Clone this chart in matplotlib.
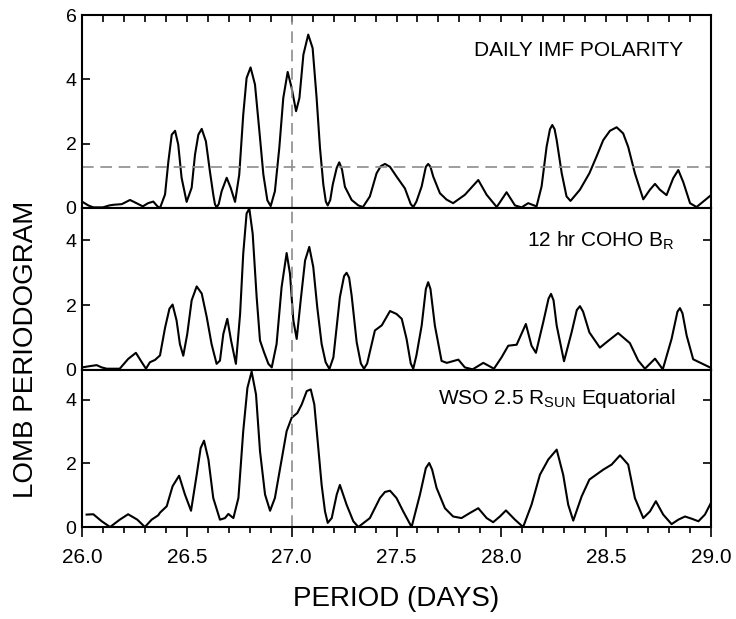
import numpy as np
import matplotlib.pyplot as plt
from matplotlib.ticker import MultipleLocator

plt.rcParams['font.family'] = ['Liberation Sans', 'DejaVu Sans']

# panel 1: daily IMF polarity
p1_x = [26.0, 26.03, 26.054, 26.10, 26.13, 26.15, 26.19, 26.229, 26.26, 26.29,
        26.315, 26.34, 26.36, 26.372, 26.396, 26.412, 26.428, 26.444, 26.459, 26.475,
        26.499, 26.523, 26.539, 26.555, 26.571, 26.591, 26.61, 26.626, 26.634, 26.642,
        26.652, 26.666, 26.69, 26.709, 26.73, 26.75, 26.769, 26.785, 26.804, 26.825,
        26.846, 26.865, 26.884, 26.9, 26.92, 26.941, 26.96, 26.981, 27.0, 27.021,
        27.037, 27.056, 27.079, 27.1, 27.119, 27.135, 27.151, 27.163, 27.172, 27.184,
        27.196, 27.215, 27.227, 27.24, 27.254, 27.286, 27.318, 27.34, 27.373, 27.405,
        27.425, 27.445, 27.469, 27.50, 27.54, 27.568, 27.58, 27.595, 27.62, 27.64,
        27.651, 27.662, 27.675, 27.707, 27.739, 27.77, 27.826, 27.89, 27.93, 27.978,
        28.025, 28.065, 28.097, 28.128, 28.168, 28.192, 28.216, 28.232, 28.243, 28.254,
        28.264, 28.288, 28.311, 28.33, 28.375, 28.42, 28.454, 28.486, 28.518, 28.55,
        28.581, 28.605, 28.637, 28.677, 28.709, 28.733, 28.756, 28.788, 28.82, 28.844,
        28.868, 28.9, 28.931, 28.963, 29.0]
p1_y = [0.2, 0.08, 0.02, 0.02, 0.08, 0.1, 0.12, 0.25, 0.15, 0.05,
        0.15, 0.2, 0.05, 0.0, 0.42, 1.45, 2.28, 2.4, 1.97, 0.94,
        0.19, 0.63, 1.66, 2.28, 2.46, 2.07, 1.14, 0.42, 0.12, 0.02,
        0.12, 0.52, 0.94, 0.63, 0.19, 1.04, 2.9, 4.04, 4.37, 3.84,
        2.39, 1.04, 0.24, 0.06, 0.52, 1.87, 3.42, 4.23, 3.73, 3.01,
        3.42, 4.77, 5.39, 4.97, 3.42, 1.87, 0.73, 0.2, 0.08, 0.25,
        0.73, 1.25, 1.42, 1.2, 0.66, 0.25, 0.08, 0.03, 0.36, 1.08,
        1.3, 1.37, 1.28, 0.98, 0.61, 0.12, 0.03, 0.2, 0.67, 1.28,
        1.37, 1.28, 0.98, 0.46, 0.26, 0.15, 0.41, 0.87, 0.41, 0.03,
        0.49, 0.08, 0.02, 0.15, 0.05, 0.67, 1.91, 2.45, 2.58, 2.45,
        2.11, 1.08, 0.36, 0.22, 0.57, 1.08, 1.6, 2.11, 2.4, 2.51,
        2.32, 1.9, 1.08, 0.27, 0.57, 0.75, 0.57, 0.4, 0.93, 1.18,
        0.8, 0.15, 0.03, 0.2, 0.4]

# panel 2: 12 hr COHO B_R
p2_x = [26.0, 26.038, 26.07, 26.094, 26.118, 26.18, 26.22, 26.257, 26.285, 26.305,
        26.324, 26.348, 26.372, 26.396, 26.417, 26.432, 26.451, 26.467, 26.483, 26.502,
        26.523, 26.547, 26.571, 26.595, 26.618, 26.642, 26.658, 26.674, 26.693, 26.711,
        26.734, 26.754, 26.769, 26.785, 26.798, 26.814, 26.833, 26.849, 26.868, 26.889,
        26.905, 26.928, 26.952, 26.976, 26.992, 27.008, 27.024, 27.043, 27.064, 27.084,
        27.103, 27.122, 27.143, 27.162, 27.18, 27.199, 27.23, 27.25, 27.262, 27.274,
        27.286, 27.31, 27.33, 27.345, 27.36, 27.373, 27.397, 27.43, 27.469, 27.5,
        27.525, 27.548, 27.568, 27.58, 27.595, 27.62, 27.64, 27.651, 27.662, 27.683,
        27.715, 27.74, 27.795, 27.826, 27.863, 27.914, 27.965, 28.001, 28.033, 28.073,
        28.117, 28.144, 28.165, 28.2, 28.225, 28.237, 28.249, 28.264, 28.299, 28.335,
        28.36, 28.375, 28.39, 28.42, 28.47, 28.51, 28.557, 28.613, 28.653, 28.685,
        28.733, 28.77, 28.812, 28.84, 28.852, 28.864, 28.884, 28.915, 28.995]
p2_y = [0.08, 0.12, 0.15, 0.08, 0.04, 0.04, 0.34, 0.53, 0.24, 0.04,
        0.24, 0.31, 0.45, 1.3, 1.89, 2.02, 1.53, 0.8, 0.44, 1.11,
        2.15, 2.58, 2.36, 1.63, 0.8, 0.19, 0.29, 1.11, 1.58, 0.91,
        0.19, 1.73, 3.59, 4.83, 4.98, 4.21, 2.25, 0.91, 0.55, 0.19,
        0.08, 0.8, 2.56, 3.61, 2.97, 1.53, 0.96, 2.15, 3.38, 3.8,
        3.18, 1.94, 0.8, 0.24, 0.03, 0.39, 2.25, 2.9, 3.0, 2.85,
        2.3, 0.86, 0.2, 0.04, 0.2, 0.56, 1.22, 1.38, 1.82, 1.73,
        1.58, 0.96, 0.2, 0.04, 0.45, 1.37, 2.5, 2.71, 2.5, 1.37,
        0.28, 0.22, 0.32, 0.08, 0.02, 0.22, 0.04, 0.39, 0.75, 0.78,
        1.42, 0.75, 0.53, 1.48, 2.2, 2.35, 2.15, 1.37, 0.27, 1.16,
        1.85, 1.97, 1.8, 1.16, 0.69, 0.9, 1.14, 0.83, 0.29, 0.04,
        0.35, 0.02, 0.96, 1.8, 1.91, 1.75, 1.06, 0.33, 0.08]

# panel 3: WSO 2.5 Rsun equatorial
p3_x = [26.022, 26.054, 26.094, 26.134, 26.18, 26.22, 26.264, 26.30, 26.332, 26.364,
        26.372, 26.404, 26.432, 26.463, 26.491, 26.52, 26.547, 26.566, 26.582, 26.603,
        26.626, 26.658, 26.682, 26.698, 26.722, 26.746, 26.769, 26.789, 26.809, 26.83,
        26.849, 26.873, 26.897, 26.92, 26.948, 26.976, 27.0, 27.027, 27.048, 27.072,
        27.091, 27.108, 27.127, 27.143, 27.159, 27.172, 27.191, 27.215, 27.23, 27.262,
        27.294, 27.318, 27.373, 27.421, 27.445, 27.469, 27.5, 27.532, 27.572, 27.612,
        27.64, 27.656, 27.67, 27.691, 27.731, 27.77, 27.81, 27.85, 27.89, 27.93,
        27.961, 27.993, 28.022, 28.065, 28.104, 28.144, 28.184, 28.224, 28.264, 28.295,
        28.319, 28.343, 28.383, 28.42, 28.486, 28.526, 28.566, 28.605, 28.637, 28.677,
        28.709, 28.737, 28.772, 28.812, 28.844, 28.876, 28.908, 28.94, 28.971, 29.0]
p3_y = [0.39, 0.40, 0.18, 0.0, 0.23, 0.40, 0.23, 0.0, 0.23, 0.37,
        0.45, 0.65, 1.28, 1.61, 1.02, 0.51, 1.64, 2.48, 2.71, 2.12,
        0.91, 0.23, 0.28, 0.41, 0.28, 0.91, 3.01, 4.37, 4.88, 4.16,
        2.38, 1.02, 0.51, 0.91, 1.96, 3.01, 3.43, 3.58, 3.85, 4.27,
        4.32, 3.85, 2.48, 1.32, 0.49, 0.13, 0.28, 1.02, 1.32, 0.7,
        0.18, 0.0, 0.28, 0.91, 1.1, 1.14, 0.91, 0.49, 0.0, 1.02,
        1.85, 2.01, 1.8, 1.23, 0.59, 0.33, 0.28, 0.44, 0.59, 0.28,
        0.15, 0.33, 0.52, 0.23, 0.0, 0.7, 1.64, 2.12, 2.43, 1.64,
        0.7, 0.2, 0.96, 1.49, 1.8, 1.96, 2.25, 1.96, 0.91, 0.28,
        0.49, 0.81, 0.39, 0.09, 0.23, 0.33, 0.26, 0.18, 0.39, 0.76]

fig = plt.figure(figsize=(7.36, 6.19), dpi=100)
left, width = 82 / 736, 629 / 736
H = 619
ax1 = fig.add_axes([left, 1 - 208 / H, width, 193 / H])
ax2 = fig.add_axes([left, 1 - 370 / H, width, 162 / H])
ax3 = fig.add_axes([left, 1 - 527 / H, width, 157 / H])

gray = '#8c8c8c'
for ax, x, y, ymax in [(ax1, p1_x, p1_y, 6), (ax2, p2_x, p2_y, 5), (ax3, p3_x, p3_y, 4.93)]:
    ax.plot(x, y, color='black', lw=1.5, solid_joinstyle='round')
    ax.set_xlim(26, 29)
    ax.set_ylim(0, ymax)
    ax.axvline(27.0, color=gray, lw=1.2, ls=(0, (7, 4)))
    for s in ax.spines.values():
        s.set_linewidth(1.5)
    ax.yaxis.set_major_locator(MultipleLocator(2))
    ax.tick_params(axis='y', direction='in', length=6, width=1.2, labelsize=14, pad=4)
    ax.tick_params(axis='x', which='both', bottom=False, top=False, labelbottom=False)

ax1.axhline(1.27, color=gray, lw=1.2, ls=(0, (7, 4)))
ax1.set_yticks([0, 2, 4, 6])
ax1.xaxis.set_minor_locator(MultipleLocator(0.1))
ax1.tick_params(axis='x', which='both', top=True, direction='in', length=5, width=1.2)

for ax in (ax2, ax3):
    ax.set_yticks([0, 2, 4])
    ax.tick_params(axis='y', right=True)

ax3.xaxis.set_major_locator(MultipleLocator(0.5))
ax3.xaxis.set_minor_locator(MultipleLocator(0.1))
ax3.xaxis.set_major_formatter('{x:.1f}')
ax3.tick_params(axis='x', which='both', bottom=True, labelbottom=True, direction='out',
                labelsize=15, width=1.2, pad=8)
ax3.tick_params(axis='x', which='major', length=7)
ax3.tick_params(axis='x', which='minor', length=4)

ax1.text(0.955, 0.815, 'DAILY IMF POLARITY', transform=ax1.transAxes, ha='right',
         va='center', fontsize=15)
ax2.text(0.943, 0.80, r'12 hr COHO B$_\mathregular{R}$', transform=ax2.transAxes,
         ha='right', va='center', fontsize=15)
ax3.text(0.943, 0.82, r'WSO 2.5 R$_\mathregular{SUN}$ Equatorial', transform=ax3.transAxes,
         ha='right', va='center', fontsize=15)

ax3.set_xlabel('PERIOD (DAYS)', fontsize=20, labelpad=14)
fig.text(0.035, 0.435, 'LOMB PERIODOGRAM', rotation=90, ha='center', va='center', fontsize=20)

fig.savefig('out.png', dpi=100)
